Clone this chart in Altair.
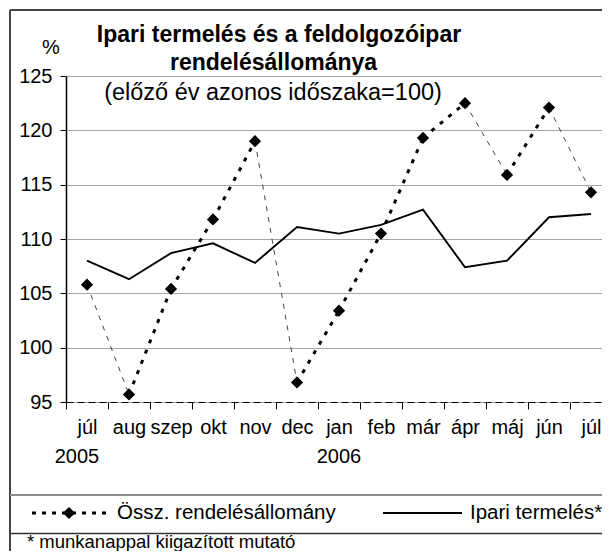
import json
import altair as alt
import pandas as pd

# ---- data ----
months = ["júl", "aug", "szep", "okt", "nov", "dec", "jan", "feb", "már", "ápr", "máj", "jún", "júl"]
years = ["2005", "", "", "", "", "", "2006", "", "", "", "", "", ""]
orders = [105.8, 95.7, 105.4, 111.8, 119.0, 96.8, 103.4, 110.5, 119.3, 122.5, 115.9, 122.1, 114.3]
industry = [108.0, 106.3, 108.7, 109.6, 107.8, 111.1, 110.5, 111.3, 112.7, 107.4, 108.0, 112.0, 112.3]
series = ["Össz. rendelésállomány", "Ipari termelés*"]
y_ticks = [95, 100, 105, 110, 115, 120, 125]
title_lines = ["Ipari termelés és a feldolgozóipar", "rendelésállománya"]
subtitle = "(előző év azonos időszaka=100)"
unit = "%"
footnote = "* munkanappal kiigazított mutató"

FONT = "Liberation Sans"
W, H = 536, 326
BAND = 42.0
X_DOMAIN = [-0.5, -0.5 + W / BAND]

idx = list(range(len(months)))
df = pd.DataFrame({"i": idx, "month": months, "year": years,
                   "orders": orders, "industry": industry})

seg = pd.DataFrame({
    "i": idx[:-1], "i2": idx[1:],
    "v": orders[:-1], "v2": orders[1:],
})
seg["dir"] = ["up" if b >= a else "down" for a, b in zip(seg["v"], seg["v2"])]

xs = alt.Scale(domain=X_DOMAIN, nice=False, zero=False)
ys = alt.Scale(domain=[95, 125], nice=False, zero=False)

label_expr = json.dumps(months, ensure_ascii=False) + "[datum.value]"

x_axis = alt.Axis(values=idx, labelExpr=label_expr, title=None, grid=False,
                  tickOffset=-BAND / 2, labelOffset=BAND / 2, tickSize=7,
                  tickColor="black", tickWidth=1, domainColor="black",
                  domainDash=[7, 4], domainWidth=1.2, labelFont=FONT,
                  labelFontSize=20, labelColor="black", labelPadding=8,
                  labelOverlap=False, labelBound=False, labelFlush=False)
y_axis = alt.Axis(values=y_ticks, title=None, grid=True, gridColor="#a6a6a6",
                  gridWidth=1.2, tickSize=6, tickColor="black", domainColor="black",
                  domainWidth=1.5, labelFont=FONT, labelFontSize=20,
                  labelColor="black", labelPadding=8)

base = alt.Chart(df)

ind_line = base.mark_line(color="black", strokeWidth=1.9).encode(
    x=alt.X("i:Q", scale=xs, axis=x_axis),
    y=alt.Y("industry:Q", scale=ys, axis=y_axis),
)

up = alt.Chart(seg).transform_filter("datum.dir == 'up'").mark_rule(
    color="black", strokeWidth=3, strokeDash=[4, 7]).encode(
    x=alt.X("i:Q", scale=xs), x2="i2:Q",
    y=alt.Y("v:Q", scale=ys), y2="v2:Q")
down = alt.Chart(seg).transform_filter("datum.dir == 'down'").mark_rule(
    color="#444444", strokeWidth=1, strokeDash=[5, 6]).encode(
    x=alt.X("i:Q", scale=xs), x2="i2:Q",
    y=alt.Y("v:Q", scale=ys), y2="v2:Q")

pts = base.mark_point(shape="diamond", filled=True, color="black", size=150,
                      opacity=1).encode(
    x=alt.X("i:Q", scale=xs), y=alt.Y("orders:Q", scale=ys))

yr1 = base.transform_filter("datum.year == '2005'").mark_text(
    font=FONT, fontSize=20, color="black", baseline="alphabetic", dx=-10).encode(
    x=alt.X("i:Q", scale=xs), y=alt.value(387), text="year:N")
yr2 = base.transform_filter("datum.year == '2006'").mark_text(
    font=FONT, fontSize=20, color="black", baseline="alphabetic", dx=0).encode(
    x=alt.X("i:Q", scale=xs), y=alt.value(387), text="year:N")


def txt(s, x, y, align="left", bold=False, size=20):
    return alt.Chart(pd.DataFrame({"t": [s]})).mark_text(
        font=FONT, fontSize=size, fontWeight="bold" if bold else "normal",
        color="black", align=align, baseline="alphabetic").encode(
        x=alt.value(x), y=alt.value(y), text="t:N")


one = pd.DataFrame({"a": [0]})


def rule(x, x2, y, y2, color, width, dash=None):
    kw = dict(color=color, strokeWidth=width)
    if dash:
        kw["strokeDash"] = dash
    return alt.Chart(one).mark_rule(**kw).encode(
        x=alt.value(x), x2=alt.value(x2), y=alt.value(y), y2=alt.value(y2))


# frame & legend box (page coords minus plot origin 66,76)
frame = [
    rule(-56, -56, -66, 500, "#444444", 2),
    rule(-56, 560, -66, -66, "#444444", 2),
    rule(-56, 560, 419, 419, "#8c8c8c", 2),
    rule(-56, 560, 457.5, 457.5, "#333333", 1.5),
]

leg_sym = [
    rule(-34, 44, 437, 437, "black", 3, [4, 6]),
    alt.Chart(one).mark_point(shape="diamond", filled=True, color="black",
                              size=150, opacity=1).encode(
        x=alt.value(3), y=alt.value(437)),
    rule(317, 396, 437, 437, "black", 1.9),
]

texts = [
    txt(title_lines[0], 213, -34, align="center", bold=True, size=23),
    txt(title_lines[1], 207.5, -6, align="center", bold=True, size=23),
    txt(subtitle, 207, 24, align="center", size=23.5),
    txt(unit, -15, -22, align="center", size=20),
    txt(series[0], 51, 443, size=20.5),
    txt(series[1], 404, 443, size=20.5),
    txt(footnote, -39, 472, size=18.5),
]

chart = alt.layer(ind_line, up, down, pts, yr1, yr2, *frame, *leg_sym, *texts).properties(
    width=W, height=H,
    autosize=alt.AutoSizeParams(type="none"),
    padding={"left": 58, "top": 68, "right": 0, "bottom": 149},
    background="white",
).configure_view(strokeWidth=0)

chart.save("out.html", embed_options={"renderer": "svg", "actions": False})
